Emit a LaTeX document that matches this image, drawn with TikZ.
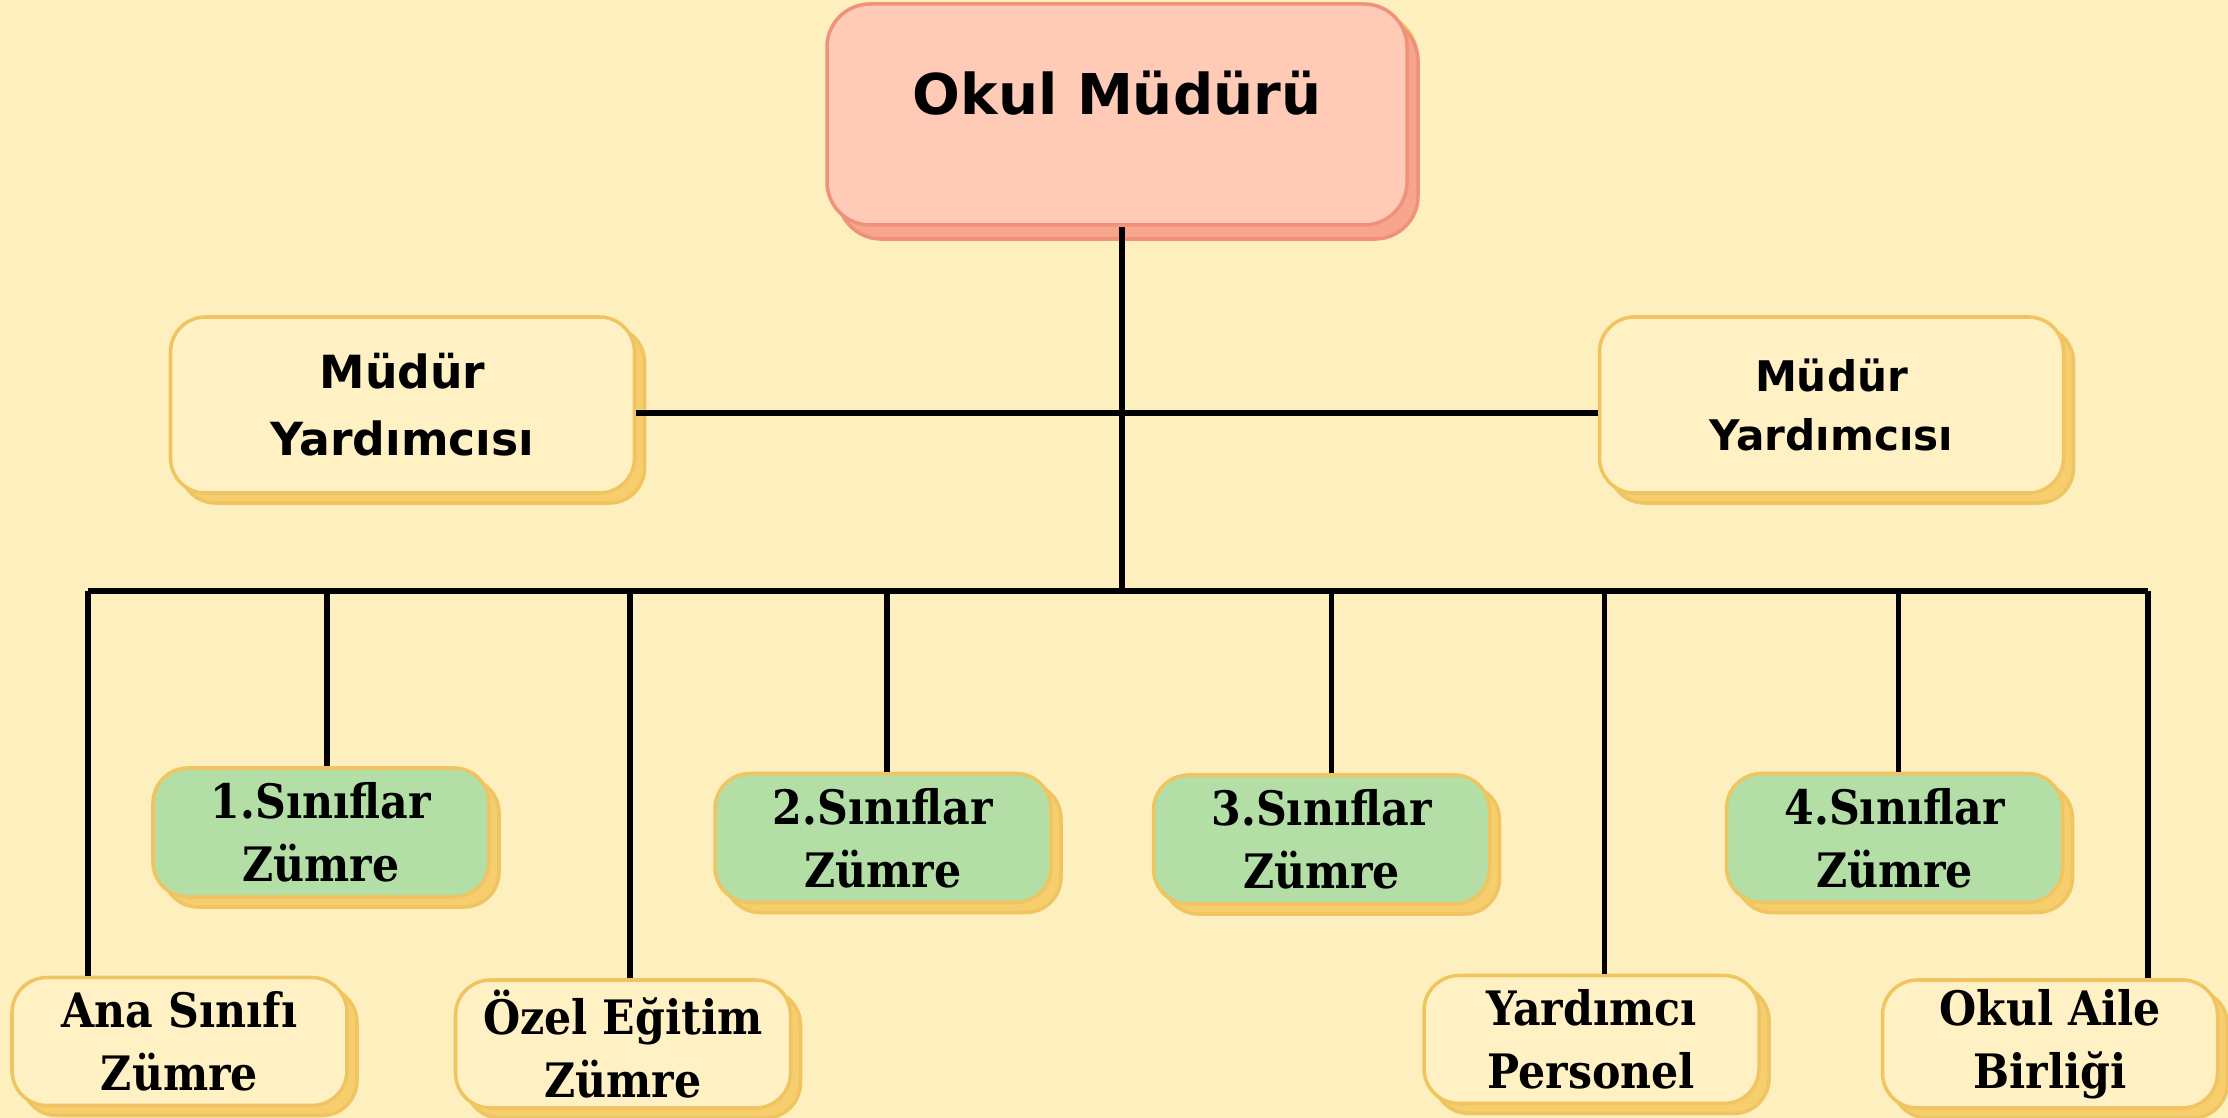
\documentclass[tikz,border=0pt]{standalone}
\usepackage{fontspec}
\usetikzlibrary{shadows}
\newfontfamily\headfont{DejaVu Sans}
\newfontfamily\zumrefont{DejaVu Serif Condensed}
\definecolor{bgcol}{HTML}{FEF0BE}
\definecolor{boxfill}{HTML}{FFF1C4}
\definecolor{boxline}{HTML}{F0C460}
\definecolor{boxshadow}{HTML}{F6CE6E}
\definecolor{pinkfill}{HTML}{FFCBB7}
\definecolor{pinkline}{HTML}{F0917A}
\definecolor{pinkshadow}{HTML}{F7A68D}
\definecolor{greenfill}{HTML}{B3DFA6}
\begin{document}
\begin{tikzpicture}[
        box/.style={rectangle,rounded corners=0.35cm,fill=boxfill,draw=boxline,line width=1pt,inner sep=0pt,
            drop shadow={shadow xshift=0.1cm,shadow yshift=-0.1cm,fill=boxshadow,draw=boxline,opacity=1}},
        headbox/.style={box,rounded corners=0.43cm,fill=pinkfill,draw=pinkline,
            drop shadow={shadow xshift=0.11cm,shadow yshift=-0.14cm,fill=pinkshadow,draw=pinkline,opacity=1},
            minimum width=5.8cm,minimum height=2.21cm,text height=0.45cm,text depth=0.45cm,
            font=\headfont\bfseries\fontsize{16}{19}\selectfont},
        helperbox/.style={box,align=center,minimum width=4.64cm,minimum height=1.76cm},
        groupbox/.style={box,align=center,fill=greenfill,minimum width=3.36cm,minimum height=1.29cm,
            font=\zumrefont\bfseries\fontsize{13.5}{18}\selectfont},
        unitbox/.style={box,align=center,minimum width=3.35cm,minimum height=1.28cm,
            font=\zumrefont\bfseries\fontsize{13.5}{18}\selectfont},
        wire/.style={line width=1.6pt,black}
    ]
        \path[use as bounding box,fill=bgcol] (0,0) rectangle (22.28,-11.18);

        \node[headbox] (mudur) at (11.17,-1.145) {Okul Müdürü};
        \node[helperbox,font=\headfont\bfseries\fontsize{13}{19}\selectfont] (myL) at (4.025,-4.05) {Müdür\\Yardımcısı};
        \node[helperbox,font=\headfont\bfseries\fontsize{12}{17}\selectfont] (myR) at (18.315,-4.05) {Müdür\\Yardımcısı};

        \node[groupbox] (g1) at (3.21,-8.325) {1.Sınıflar\\Zümre};
        \node[groupbox] (g2) at (8.83,-8.38) {2.Sınıflar\\Zümre};
        \node[groupbox] (g3) at (13.215,-8.395) {3.Sınıflar\\Zümre};
        \node[groupbox] (g4) at (18.945,-8.38) {4.Sınıflar\\Zümre};

        \node[unitbox] (ana) at (1.795,-10.415) {Ana Sınıfı\\Zümre};
        \node[unitbox] (ozel) at (6.23,-10.44) {Özel Eğitim\\Zümre};
        \node[unitbox] (yard) at (15.915,-10.395) {Yardımcı\\Personel};
        \node[unitbox] (aile) at (20.5,-10.44) {Okul Aile\\Birliği};

        \coordinate (busL) at (0.88,-5.91);
        \coordinate (busR) at (21.48,-5.91);

        \draw[wire] ([yshift=-0.08cm]myL.east) -- ([yshift=-0.08cm]myR.west);
        \draw[wire] ([xshift=0.05cm]mudur.south) -- ([xshift=0.05cm]mudur.south |- busL);
        \draw[wire] (busL) -- (busR);
        \draw[wire] (busL) -- (busL |- ana.north);
        \draw[wire] (busR) -- (busR |- aile.north);
        \foreach \n/\dx in {g1/0.06,ozel/0.07,g2/0.04,g3/0.1,yard/0.13,g4/0.04}
            \draw[wire] ([xshift=\dx cm]\n.north |- busL) -- ([xshift=\dx cm]\n.north);
    \end{tikzpicture}
\end{document}
